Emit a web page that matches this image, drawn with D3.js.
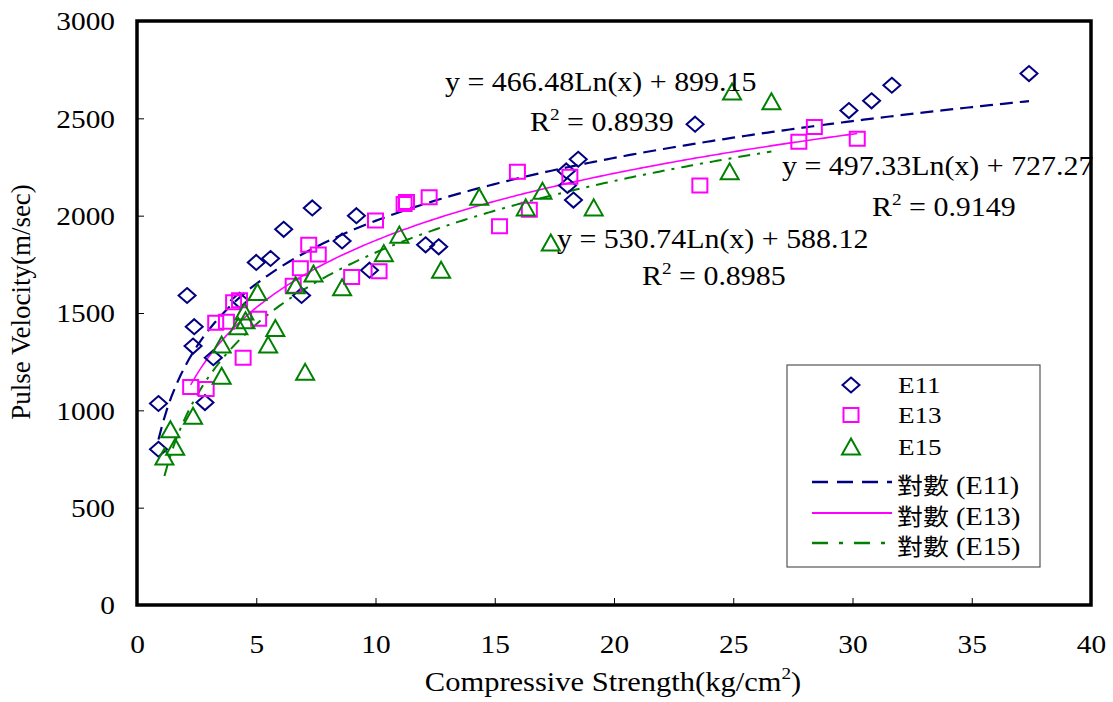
<!DOCTYPE html>
<html><head><meta charset="utf-8">
<script src="https://cdn.jsdelivr.net/npm/d3@7/dist/d3.min.js"></script>
<style>
body{margin:0;background:#fff;}
text{font-family:"Liberation Serif","Times New Roman",serif;fill:#000;}
</style></head>
<body><svg id="chart" width="1113" height="702"></svg>
<script>
// ---- data ----
const seriesNames = ["E11", "E13", "E15"];
const e11X = [0.9,0.9,2.1,2.4,2.35,2.85,3.2,4.3,5.0,5.6,6.15,6.9,7.35,8.6,9.2,9.75,12.1,12.65,18.0,18.05,18.3,18.5,23.4,29.85,30.8,31.65,37.4];
const e11Y = [1035,800,1590,1430,1330,1040,1270,1565,1760,1780,1930,1590,2040,1870,2000,1720,1850,1840,2230,2155,2080,2290,2470,2540,2590,2670,2730];
const e13X = [2.25,2.9,3.3,3.75,4.05,4.3,4.45,5.1,6.55,6.85,7.2,7.6,9.0,10.0,10.15,11.2,11.3,12.25,15.2,15.95,16.45,18.15,23.6,27.75,28.4,30.2];
const e13Y = [1120,1110,1450,1455,1555,1565,1270,1470,1640,1730,1850,1800,1685,1975,1715,2060,2070,2095,1945,2225,2030,2200,2155,2380,2455,2395];
const e15X = [1.15,1.4,1.6,2.35,3.55,3.55,4.25,4.55,4.5,5.05,5.5,5.8,6.65,7.05,7.4,8.6,10.35,11.0,12.75,14.35,16.3,17.0,17.35,19.15,24.85,24.95,26.6];
const e15Y = [760,900,810,970,1175,1335,1430,1460,1505,1605,1335,1420,1640,1195,1700,1630,1805,1900,1720,2095,2040,2125,1860,2040,2225,2635,2585];
// logarithmic trend-line coefficients (y = a*ln(x) + b) and R² as printed
const trendA = [466.48, 497.33, 530.74];
const trendB = [899.15, 727.27, 588.12];
const trendR2 = ["0.8939", "0.9149", "0.8985"];
const xTicks = [0,5,10,15,20,25,30,35,40];
const yTicks = [0,500,1000,1500,2000,2500,3000];
const xTitle = "Compressive Strength(kg/cm";
const yTitle = "Pulse Velocity(m/sec)";
const trendLabel = "對數";

// ---- layout ----
const SX = 1.13; // reference text is slightly wider than tall
const colors = ["#000080", "#FF00FF", "#008000"];
const svg = d3.select("#chart");
const x = d3.scaleLinear().domain([0,40]).range([137,1091]);
const y = d3.scaleLinear().domain([0,3000]).range([605,21]);

const series = [
  {name: seriesNames[0], xs: e11X, ys: e11Y, shape: "diamond"},
  {name: seriesNames[1], xs: e13X, ys: e13Y, shape: "square"},
  {name: seriesNames[2], xs: e15X, ys: e15Y, shape: "triangle"}
];
const dashes = ["13,7", null, "12,7,3,7"];
const widths = [2.2, 1.6, 2];

function markerPath(shape){
  if(shape==="diamond") return "M0,-7.5L8.5,0L0,7.5L-8.5,0Z";
  if(shape==="square") return "M-7.5,-7L7.5,-7L7.5,7L-7.5,7Z";
  return "M0,-8.5L9,7.5L-9,7.5Z";
}

// axes
const yAxis = d3.axisLeft(y).tickValues(yTicks).tickFormat(d3.format("d")).tickSizeInner(-7).tickSizeOuter(0).tickPadding(22);
const gy = svg.append("g").attr("transform","translate(137,0)").call(yAxis);
gy.select(".domain").remove();
gy.selectAll(".tick line").attr("stroke","#000").attr("stroke-width",1);
gy.selectAll(".tick text").attr("font-size",26).attr("font-family","Liberation Serif")
  .attr("transform",`scale(${SX},1)`).attr("x",-22/SX).attr("dy","0.34em");

const xAxis = d3.axisBottom(x).tickValues(xTicks).tickFormat(d3.format("d")).tickSizeInner(-7).tickSizeOuter(0).tickPadding(30);
const gx = svg.append("g").attr("transform","translate(0,605)").call(xAxis);
gx.select(".domain").remove();
gx.selectAll(".tick line").attr("stroke","#000").attr("stroke-width",1);
gx.selectAll(".tick text").attr("font-size",26).attr("font-family","Liberation Serif")
  .attr("transform",`scale(${SX},1)`).attr("dy","0.71em");

// trend lines
series.forEach((s,i)=>{
  const lo = d3.min(s.xs), hi = d3.max(s.xs);
  const pts = d3.range(0,201).map(k=>{const xv = lo + (hi-lo)*k/200; return [xv, trendA[i]*Math.log(xv)+trendB[i]];});
  svg.append("path").datum(pts)
    .attr("d", d3.line().x(d=>x(d[0])).y(d=>y(d[1])))
    .attr("fill","none").attr("stroke",colors[i]).attr("stroke-width",widths[i])
    .attr("stroke-dasharray",dashes[i]);
});

// points
series.forEach((s,i)=>{
  svg.append("g").selectAll("path").data(s.xs.map((v,k)=>[v,s.ys[k]])).join("path")
    .attr("d", markerPath(s.shape))
    .attr("transform", d=>`translate(${x(d[0])},${y(d[1])})`)
    .attr("fill","none").attr("stroke",colors[i]).attr("stroke-width",2);
});

// frame
svg.append("rect").attr("x",137).attr("y",21).attr("width",954).attr("height",584)
  .attr("fill","none").attr("stroke","#000").attr("stroke-width",3.5);

// text helper (with horizontal stretch)
function stext(px, py, size, anchor){
  const g = svg.append("g").attr("transform",`translate(${px},${py}) scale(${SX},1)`);
  return g.append("text").attr("font-size",size).attr("text-anchor",anchor);
}
function eqText(px, py, i){
  const a = trendA[i].toFixed(2), b = trendB[i].toFixed(2);
  stext(px, py, 26.5, "start").text(`y = ${a}Ln(x) + ${b}`);
}
function r2Text(px, py, i){
  const t = stext(px, py, 26.5, "start");
  t.append("tspan").text("R");
  t.append("tspan").attr("font-size",17).attr("dy",-11).text("2");
  t.append("tspan").attr("dy",11).text(" = " + trendR2[i]);
}
eqText(445, 91, 0); r2Text(530, 131, 0);
eqText(782, 175, 1); r2Text(872, 216, 1);
eqText(557, 248, 2); r2Text(642, 285, 2);

// axis titles
const xt = stext(613, 691, 27, "middle");
xt.append("tspan").text(xTitle);
xt.append("tspan").attr("font-size",17).attr("dy",-12).text("2");
xt.append("tspan").attr("dy",12).text(")");
svg.append("text").attr("transform","translate(30,302) rotate(-90)")
  .attr("font-size",27).attr("text-anchor","middle").text(yTitle);

// legend
svg.append("rect").attr("x",787).attr("y",365).attr("width",253).attr("height",202)
  .attr("fill","#fff").attr("stroke","#555").attr("stroke-width",1.2);
const mRows = [385, 415, 447];
series.forEach((s,i)=>{
  svg.append("path").attr("d", markerPath(s.shape))
    .attr("transform",`translate(851,${mRows[i]})`)
    .attr("fill","none").attr("stroke",colors[i]).attr("stroke-width",2);
  stext(898, mRows[i]+8, 24, "start").text(s.name);
});
const lRows = [482, 513, 543];
series.forEach((s,i)=>{
  svg.append("line").attr("x1",812).attr("x2",892).attr("y1",lRows[i]).attr("y2",lRows[i])
    .attr("stroke",colors[i]).attr("stroke-width",widths[i]+0.3)
    .attr("stroke-dasharray", i===0 ? "16,9" : (i===2 ? "16,11,4,11" : null));
  const t = stext(897, lRows[i]+12, 25, "start");
  t.append("tspan").attr("font-family","Noto Sans CJK TC").attr("font-size",23).text(trendLabel);
  t.append("tspan").text(" (" + s.name + ")");
});
</script></body></html>
